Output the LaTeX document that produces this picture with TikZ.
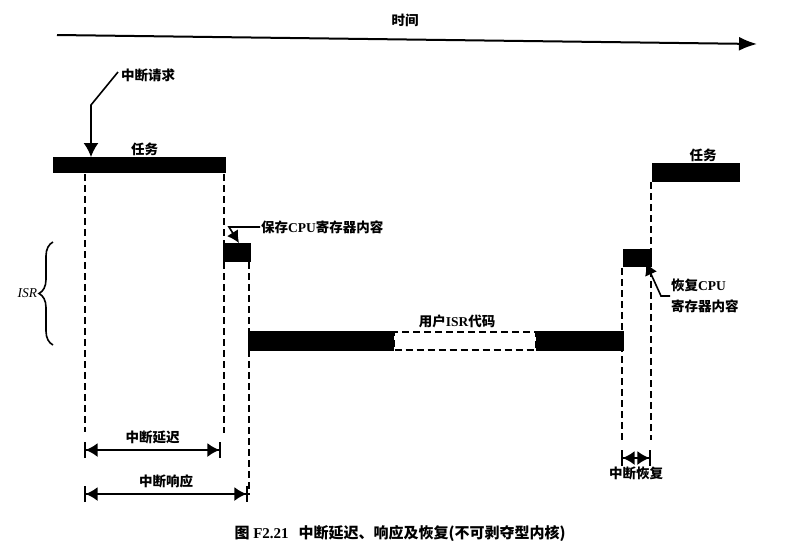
\documentclass[tikz,border=0pt]{standalone}
\usepackage{fontspec}
\setmainfont{Liberation Serif}
\newfontfamily\cjk{Noto Sans CJK SC}
\usetikzlibrary{arrows.meta,positioning,decorations.pathreplacing}

\tikzset{
  bar/.style={fill=black, inner sep=0pt, outer sep=0pt},
  guide/.style={line width=1.6pt, dash pattern=on 7pt off 4pt},
  span/.style={line width=1.6pt, {Bar[width=16pt]Latex[length=12pt,width=14pt]}-{Latex[length=12pt,width=14pt]Bar[width=16pt]}},
  lead/.style={line width=1.6pt},
  lbl/.style={font=\cjk\bfseries\fontsize{13.5}{21}\selectfont, inner sep=1pt},
}

\begin{document}
\begin{tikzpicture}[x=1pt,y=-1pt]

\useasboundingbox (0,0) rectangle (799,555);

% Draw the time axis
\node[lbl] (time) at (405,20) {时间};
\draw[line width=2pt,-{Latex[length=18pt,width=14pt]}] (57,35) -- (757,44);

% Draw the task bars and the ISR boxes
\node[bar, minimum width=173pt, minimum height=16pt, anchor=north west] (task1) at (53,157) {};
\node[bar, minimum width=28pt, minimum height=19pt, anchor=north west] (savebox) at (223,243) {};
\node[bar, minimum width=146pt, minimum height=20pt, anchor=north west] (isrA) at (248,331) {};
\node[draw, line width=1.4pt, dash pattern=on 7pt off 4pt, fill=white, minimum width=141pt, minimum height=18pt, inner sep=0pt, right=0pt of isrA] (isrB) {};
\node[bar, minimum width=88pt, minimum height=20pt, right=0pt of isrB] (isrC) {};
\node[bar, minimum width=29pt, minimum height=18pt, anchor=north west] (restorebox) at (623,249) {};
\node[bar, minimum width=88pt, minimum height=19pt, anchor=north west] (task2) at (652,163) {};

% Add the bar labels
\node[lbl, above=0pt of task1, xshift=5pt] (task1lbl) {任务};
\node[lbl, above=0pt of task2, xshift=7pt] (task2lbl) {任务};
\node[lbl] (isrlbl) at (457,321) {用户{\rmfamily ISR}代码};

% Interrupt request
\node[lbl, anchor=west] (irq) at (120,75) {中断请求};
\coordinate (bend) at (91,105);
\draw[lead,-{Latex[length=14pt,width=15pt]}] ([shift={(-2pt,3pt)}]irq.west) -- (bend) -- (bend |- task1.north);

% Save and restore the CPU registers
\node[lbl, anchor=west] (save) at (260,227) {保存{\rmfamily CPU}寄存器内容};
\draw[lead,-{Latex[length=12pt,width=13pt]}] (save.west) -- (229,227) -- ([xshift=2pt]savebox.north);
\node[lbl, anchor=west, align=left] (restore) at (670,296) {恢复{\rmfamily CPU}\\寄存器内容};
\draw[lead,-{Latex[length=12pt,width=13pt]}] (restore.west) -- ++(-9,0) -- ([xshift=-6pt,yshift=4pt]restorebox.south east);

% ISR brace
\draw[lead, decorate, decoration={brace, amplitude=14pt}] (53,345) -- (53,242)
    node[midway, left=14pt, font=\itshape\fontsize{13.5}{16}\selectfont, inner sep=1pt] (isr) {ISR};

% Draw the dashed guides
\foreach \x/\top/\bot in {85/174/432, 224/174/433, 249/262/495, 622/268/440, 651/182/440}
    \draw[guide] (\x,\top) -- (\x,\bot);

% Draw the spans
\draw[span] (84,450) -- (221,450) node[midway, above=4pt, lbl] (delay) {中断延迟};
\draw[span] (84,494) -- (248,494) node[midway, above=4pt, lbl] (response) {中断响应};
\draw[span] (621,458) -- (651,458) node[midway, below=7pt, lbl] (recovery) {中断恢复};

% Caption
\node[anchor=west, font=\bfseries\fontsize{15}{18}\selectfont] (caption) at (231,534)
    {{\cjk 图} F2.21\hspace{10pt}{\cjk 中断延迟、响应及恢复(不可剥夺型内核)}};

\end{tikzpicture}
\end{document}
